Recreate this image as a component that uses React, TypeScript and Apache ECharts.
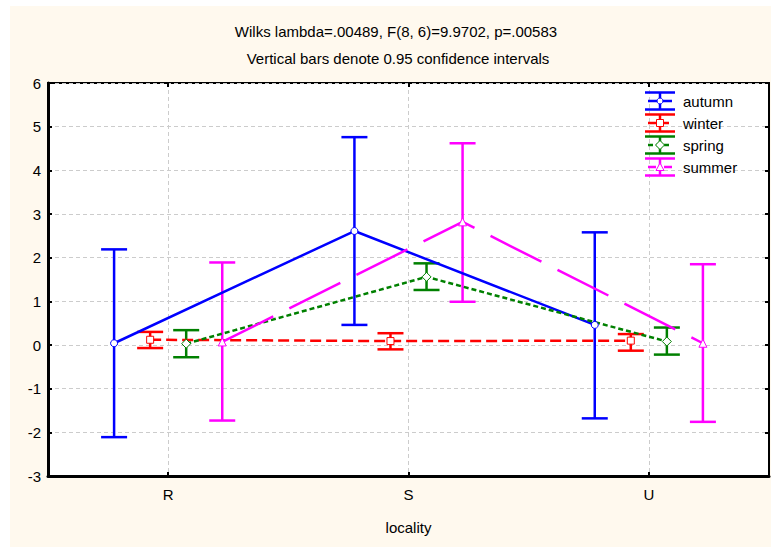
import React, { useEffect, useRef } from 'react';
import * as echarts from 'echarts';

// ---- data ----
const categories = ['R', 'S', 'U'];
const seasons = ['autumn', 'winter', 'spring', 'summer'];

const autumnMean = [0.04, 2.61, 0.46];
const autumnLow = [-2.11, 0.46, -1.68];
const autumnHigh = [2.19, 4.76, 2.58];

const winterMean = [0.12, 0.09, 0.1];
const winterLow = [-0.07, -0.1, -0.13];
const winterHigh = [0.3, 0.27, 0.25];

const springMean = [0.03, 1.56, 0.08];
const springLow = [-0.28, 1.26, -0.22];
const springHigh = [0.34, 1.87, 0.4];

const summerMean = [0.07, 2.82, 0.04];
const summerLow = [-1.73, 0.99, -1.76];
const summerHigh = [1.89, 4.62, 1.85];

const yMin = -3;
const yMax = 6;
const yStep = 1;

const titleLine1 = 'Wilks lambda=.00489, F(8, 6)=9.9702, p=.00583';
const titleLine2 = 'Vertical bars denote 0.95 confidence intervals';
const xAxisName = 'locality';

// ---- styles ----
const seasonMeans = [autumnMean, winterMean, springMean, summerMean];
const seasonLows = [autumnLow, winterLow, springLow, summerLow];
const seasonHighs = [autumnHigh, winterHigh, springHigh, summerHigh];
const seasonColors = ['#0000FF', '#FF0000', '#008000', '#FF00FF'];
const seasonOffsets = [-0.225, -0.075, 0.075, 0.225];
const seasonDash: any[] = ['solid', [11, 5], [5, 3], [57, 18]];
const seasonSymbols = ['circle', 'rect', 'diamond', 'triangle'];
const seasonSymbolSizes = [7, 7, 9, 8];

const FONT = 'Liberation Sans, Arial, sans-serif';

export default function App() {
  const ref = useRef<HTMLDivElement>(null);

  useEffect(() => {
    if (!ref.current) return;
    const chart = echarts.init(ref.current, undefined, { renderer: 'svg' });

    const series: any[] = [];
    seasons.forEach((name, s) => {
      const color = seasonColors[s];
      const ebData = categories.map((_, i) => [i + seasonOffsets[s], seasonLows[s][i], seasonHighs[s][i]]);
      series.push({
        type: 'custom',
        name: name + ' CI',
        xAxisIndex: 1,
        yAxisIndex: 0,
        encode: { x: 0, y: [1, 2] },
        data: ebData,
        renderItem: (params: any, api: any) => {
          const x = api.value(0);
          const a = api.coord([x, api.value(1)]);
          const b = api.coord([x, api.value(2)]);
          const hw = 13;
          const style = { stroke: color, lineWidth: 2.5, fill: null };
          return {
            type: 'group',
            children: [
              { type: 'line', shape: { x1: a[0], y1: a[1], x2: b[0], y2: b[1] }, style },
              { type: 'line', shape: { x1: a[0] - hw, y1: a[1], x2: a[0] + hw, y2: a[1] }, style },
              { type: 'line', shape: { x1: b[0] - hw, y1: b[1], x2: b[0] + hw, y2: b[1] }, style },
            ],
          };
        },
      });
      series.push({
        type: 'line',
        name,
        xAxisIndex: 1,
        yAxisIndex: 0,
        data: categories.map((_, i) => [i + seasonOffsets[s], seasonMeans[s][i]]),
        symbol: seasonSymbols[s],
        symbolSize: seasonSymbolSizes[s],
        showSymbol: true,
        lineStyle: { color, width: 2.5, type: seasonDash[s], cap: 'butt' },
        itemStyle: { color: '#ffffff', borderColor: color, borderWidth: 1 },
      });
    });

    // legend drawn as graphic glyphs (caps + whisker + line + marker)
    const legendX = 635;
    const legendW = 30;
    const legendTop = 95;
    const legendGap = 22;
    const legendH = 17;
    const legendEls: any[] = [];
    seasons.forEach((name, s) => {
      const color = seasonColors[s];
      const cy = legendTop + s * legendGap;
      const cx = legendX + legendW / 2;
      const st = { stroke: color, lineWidth: 2.5, fill: null };
      const dash = seasonDash[s] === 'solid' ? null : seasonDash[s].map((d: number) => Math.min(d, 8));
      let marker: any;
      if (s === 0) marker = { type: 'circle', shape: { cx, cy, r: 3 }, style: { fill: '#fff', stroke: color, lineWidth: 1 } };
      else if (s === 1) marker = { type: 'rect', shape: { x: cx - 3.5, y: cy - 3.5, width: 7, height: 7 }, style: { fill: '#fff', stroke: color, lineWidth: 1 } };
      else if (s === 2) marker = { type: 'polygon', shape: { points: [[cx, cy - 4.5], [cx + 4.5, cy], [cx, cy + 4.5], [cx - 4.5, cy]] }, style: { fill: '#fff', stroke: color, lineWidth: 1 } };
      else marker = { type: 'polygon', shape: { points: [[cx, cy - 4], [cx + 4, cy + 3.5], [cx - 4, cy + 3.5]] }, style: { fill: '#fff', stroke: color, lineWidth: 1 } };
      legendEls.push(
        { type: 'line', shape: { x1: legendX, y1: cy - legendH / 2, x2: legendX + legendW, y2: cy - legendH / 2 }, style: st, z: 10 },
        { type: 'line', shape: { x1: legendX, y1: cy + legendH / 2, x2: legendX + legendW, y2: cy + legendH / 2 }, style: st, z: 10 },
        { type: 'line', shape: { x1: cx, y1: cy - legendH / 2, x2: cx, y2: cy + legendH / 2 }, style: st, z: 10 },
        { type: 'line', shape: { x1: legendX + 3, y1: cy, x2: legendX + legendW - 3, y2: cy }, style: { ...st, lineDash: dash }, z: 10 },
        { ...marker, z: 11 },
        {
          type: 'text',
          x: legendX + legendW + 8,
          y: cy,
          style: { text: name, fill: '#000', font: '15px ' + FONT, textVerticalAlign: 'middle', textAlign: 'left' },
          z: 11,
        },
      );
    });

    const option: any = {
      animation: false,
      backgroundColor: 'transparent',
      textStyle: { fontFamily: FONT },
      grid: {
        left: 38,
        top: 77,
        right: 2,
        bottom: 71,
        show: true,
        backgroundColor: '#ffffff',
        borderColor: '#000000',
        borderWidth: 2,
        containLabel: false,
      },
      xAxis: [
        {
          type: 'category',
          data: categories,
          position: 'bottom',
          boundaryGap: true,
          name: xAxisName,
          nameLocation: 'middle',
          nameGap: 44,
          nameTextStyle: { color: '#000', fontSize: 15, fontFamily: FONT },
          axisLine: { show: true, onZero: false, lineStyle: { color: '#000', width: 3 } },
          axisTick: { show: true, inside: true, alignWithLabel: true, length: 4, lineStyle: { color: '#000', width: 2 } },
          axisLabel: { color: '#000', fontSize: 15, margin: 11, fontFamily: FONT },
          splitLine: { show: true, alignWithLabel: true, lineStyle: { color: '#cccccc', type: [4, 3], width: 1 } },
        },
        {
          type: 'value',
          min: -0.5,
          max: 2.5,
          show: false,
          position: 'bottom',
          axisLine: { show: false, onZero: false },
          splitLine: { show: false },
        },
        {
          type: 'category',
          data: categories,
          position: 'top',
          boundaryGap: true,
          axisLine: { show: false, onZero: false },
          axisTick: { show: true, inside: true, alignWithLabel: true, length: 4, lineStyle: { color: '#000', width: 2 } },
          axisLabel: { show: false },
          splitLine: { show: false },
        },
      ],
      yAxis: [
        {
          type: 'value',
          min: yMin,
          max: yMax,
          interval: yStep,
          position: 'left',
          axisLine: { show: true, onZero: false, lineStyle: { color: '#000', width: 3 } },
          axisTick: { show: true, inside: true, length: 4, lineStyle: { color: '#000', width: 2 } },
          axisLabel: { color: '#000', fontSize: 15, margin: 7, fontFamily: FONT },
          splitLine: { show: true, lineStyle: { color: '#cccccc', type: [4, 3], width: 1 } },
        },
        {
          type: 'value',
          min: yMin,
          max: yMax,
          interval: yStep,
          position: 'right',
          axisLine: { show: false, onZero: false },
          axisTick: { show: true, inside: true, length: 4, lineStyle: { color: '#000', width: 2 } },
          axisLabel: { show: false },
          splitLine: { show: false },
        },
      ],
      graphic: [
        {
          type: 'text',
          x: 386,
          y: 25,
          style: { text: titleLine1, fill: '#000', font: '15px ' + FONT, textAlign: 'center', textVerticalAlign: 'middle' },
        },
        {
          type: 'text',
          x: 388,
          y: 52,
          style: { text: titleLine2, fill: '#000', font: '15px ' + FONT, textAlign: 'center', textVerticalAlign: 'middle' },
        },
        ...legendEls,
      ],
      series,
    };

    chart.setOption(option);
    return () => chart.dispose();
  }, []);

  return (
    <div style={{ position: 'absolute', left: 0, top: 0, width: 771, height: 547, background: '#ffffff' }}>
      <div
        ref={ref}
        style={{ position: 'absolute', left: 10, top: 6, width: 761, height: 541, background: '#FFF9EE' }}
      />
    </div>
  );
}
